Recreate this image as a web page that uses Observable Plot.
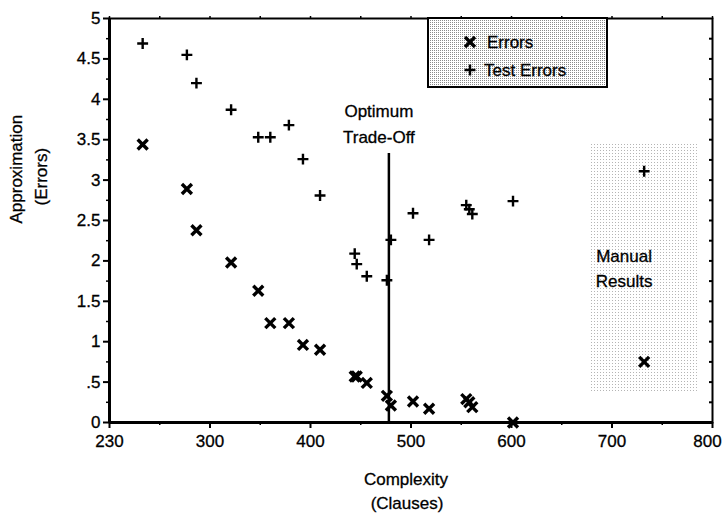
<!DOCTYPE html>
<html>
<head>
<meta charset="utf-8">
<script src="https://cdn.jsdelivr.net/npm/d3@7"></script>
<script src="https://cdn.jsdelivr.net/npm/@observablehq/plot@0.6"></script>
<style>
  html, body { margin: 0; padding: 0; background: #fff; }
  #chart { width: 722px; height: 522px; }
  svg text { font-family: "Liberation Sans", Arial, Helvetica, sans-serif; stroke: black; stroke-width: 0.3px; }
</style>
</head>
<body>
<div id="chart"></div>
<script>
// ---- data ----
const complexity = [233, 277, 286.5, 321, 348, 360, 378.5, 392.5, 409.5, 444, 446, 456, 476, 480, 502, 518, 555, 558, 561, 601.5];
const errors     = [3.44, 2.89, 2.38, 1.98, 1.63, 1.23, 1.23, 0.96, 0.90, 0.57, 0.57, 0.49, 0.33, 0.21, 0.26, 0.17, 0.29, 0.25, 0.19, 0];
const testErrors = [4.69, 4.55, 4.20, 3.87, 3.53, 3.53, 3.68, 3.26, 2.81, 2.09, 1.96, 1.81, 1.76, 2.26, 2.59, 2.26, 2.69, 2.64, 2.58, 2.74];

const manualComplexity = [732];
const manualErrors     = [0.75];
const manualTestErrors = [3.11];

const optimumX = [478];
const optimumTop = [3.33];
const optimumLabel = ["Optimum\nTrade-Off"];
const manualLabel = ["Manual\nResults"];
const manualRegion = [{x1: 679, x2: 785, y1: 0.36, y2: 3.45}];

const xTicks = [200, 300, 400, 500, 600, 700, 800];
const xTickLabels = ["230", "300", "400", "500", "600", "700", "800"];
const xMinorTicks = [250, 350, 450, 550, 650, 750];
const xTopTicks = d3.range(200, 801, 50);
const yTicks = [0, 0.5, 1, 1.5, 2, 2.5, 3, 3.5, 4, 4.5, 5];
const yTickLabels = ["0", ".5", "1", "1.5", "2", "2.5", "3", "3.5", "4", "4.5", "5"];
const yMinorTicks = d3.range(0.25, 5, 0.5);
const yRightTicks = d3.range(0.25, 5, 0.25);

const xTitle = ["Complexity", "(Clauses)"];
const yTitle = ["Approximation", "(Errors)"];
const legendLabels = ["Errors", "Test Errors"];

const errRows = complexity.map((c, i) => ({c, v: errors[i]}));
const testRows = complexity.map((c, i) => ({c, v: testErrors[i]}));
const manErr = manualComplexity.map((c, i) => ({c, v: manualErrors[i]}));
const manTest = manualComplexity.map((c, i) => ({c, v: manualTestErrors[i]}));

const FONT = '"Liberation Sans", Arial, Helvetica, sans-serif';

const plot = Plot.plot({
  width: 722,
  height: 522,
  marginLeft: 109,
  marginRight: 10,
  marginTop: 18,
  marginBottom: 100,
  style: {fontFamily: FONT, fontSize: "17px", color: "black", background: "white"},
  x: {domain: [200, 800]},
  y: {domain: [0, 5]},
  marks: [
    // manual results stippled region
    Plot.rect(manualRegion, {x1: "x1", x2: "x2", y1: "y1", y2: "y2", fill: "url(#stipManual)"}),
    // axes
    Plot.axisX({ticks: xTicks, tickFormat: (d, i) => xTickLabels[i], tickSize: 6, tickPadding: 6, strokeWidth: 2, label: null, fontSize: 17}),
    Plot.axisX({ticks: xMinorTicks, tickFormat: () => "", tickSize: 3, strokeWidth: 1.5, label: null}),
    Plot.axisX({anchor: "top", ticks: xTopTicks, tickFormat: () => "", tickSize: 3, strokeWidth: 1.5, label: null}),
    Plot.axisY({ticks: yTicks, tickFormat: (d, i) => yTickLabels[i], tickSize: 6, tickPadding: 3, strokeWidth: 2, label: null, fontSize: 17}),
    Plot.axisY({ticks: yMinorTicks, tickFormat: () => "", tickSize: 3, strokeWidth: 1.5, label: null}),
    Plot.axisY({anchor: "right", ticks: yRightTicks, tickFormat: () => "", tickSize: 4, dx: -4, strokeWidth: 2, label: null}),
    Plot.frame({strokeWidth: 2}),
    Plot.ruleX([200], {strokeWidth: 3}),
    Plot.ruleY([0], {strokeWidth: 3}),
    // optimum trade-off line
    Plot.ruleX(optimumX, {x: d => d, y1: 0, y2: optimumTop[0], strokeWidth: 2.5}),
    Plot.text(optimumLabel, {x: optimumX, y: [3.72], text: d => d, dx: -10, lineHeight: 1.5, fontSize: 17, fill: "black"}),
    Plot.text(manualLabel, {x: [712], y: [1.93], text: d => d, lineHeight: 1.5, fontSize: 17, fill: "black"}),
    // points
    Plot.dot(errRows, {x: "c", y: "v", symbol: "times", r: 4.6, stroke: "black", strokeWidth: 3.4}),
    Plot.dot(testRows, {x: "c", y: "v", symbol: "plus", r: 3.6, stroke: "black", strokeWidth: 2.4}),
    Plot.dot(manErr, {x: "c", y: "v", symbol: "times", r: 4.6, stroke: "black", strokeWidth: 3.4}),
    Plot.dot(manTest, {x: "c", y: "v", symbol: "plus", r: 3.6, stroke: "black", strokeWidth: 2.4}),
    // axis titles
    Plot.text([xTitle[0]], {frameAnchor: "bottom", dx: -5, dy: 62, fontSize: 17, fill: "black"}),
    Plot.text([xTitle[1]], {frameAnchor: "bottom", dx: -4, dy: 86, fontSize: 17, fill: "black"}),
    Plot.text([yTitle[0]], {frameAnchor: "left", rotate: -90, dx: -93, dy: 3, fontSize: 17, fill: "black"}),
    Plot.text([yTitle[1]], {frameAnchor: "left", rotate: -90, dx: -68, dy: -15, fontSize: 17, fill: "black"})
  ]
});

const svg = d3.select(plot);

// keep the last x tick label ("800") inside the picture, as in the reference
const xLabelGroups = svg.selectAll('g[aria-label="x-axis tick label"]');
xLabelGroups.each(function () {
  const texts = d3.select(this).selectAll("text");
  if (texts.size() === xTicks.length) {
    const last = d3.select(texts.nodes()[texts.size() - 1]);
    const t = last.attr("transform") || "";
    last.attr("transform", t + " translate(-5,0)");
  }
});

const defs = svg.insert("defs", ":first-child");
const p1 = defs.append("pattern").attr("id", "stipManual").attr("width", 3).attr("height", 3).attr("patternUnits", "userSpaceOnUse");
p1.append("rect").attr("width", 1).attr("height", 1).attr("fill", "#b4b4b4");
const p2 = defs.append("pattern").attr("id", "stipLegend").attr("width", 2).attr("height", 2).attr("patternUnits", "userSpaceOnUse");
p2.append("rect").attr("width", 2).attr("height", 2).attr("fill", "#fff");
p2.append("rect").attr("width", 1).attr("height", 1).attr("fill", "#8a8a8a");

// legend box (drawn inside the chart, below the top axis line)
const lg = svg.append("g").attr("class", "legend").attr("text-anchor", "start");
lg.append("rect").attr("x", 428).attr("y", 18).attr("width", 179).attr("height", 69)
  .attr("fill", "url(#stipLegend)").attr("stroke", "black").attr("stroke-width", 2);
const sym = d3.symbol();
lg.append("path").attr("transform", "translate(470,42)")
  .attr("d", sym.type(d3.symbolTimes).size(67)()).attr("fill", "none").attr("stroke", "black").attr("stroke-width", 3.4);
lg.append("path").attr("transform", "translate(470,70)")
  .attr("d", sym.type(d3.symbolPlus).size(41)()).attr("fill", "none").attr("stroke", "black").attr("stroke-width", 2.4);
lg.append("text").attr("x", 487).attr("y", 42).attr("dy", "0.35em").attr("font-size", 17).attr("text-anchor", "start").attr("font-family", FONT).text(legendLabels[0]);
lg.append("text").attr("x", 484).attr("y", 70).attr("dy", "0.35em").attr("font-size", 17).attr("text-anchor", "start").attr("font-family", FONT).text(legendLabels[1]);

document.getElementById("chart").appendChild(plot);
</script>
</body>
</html>
